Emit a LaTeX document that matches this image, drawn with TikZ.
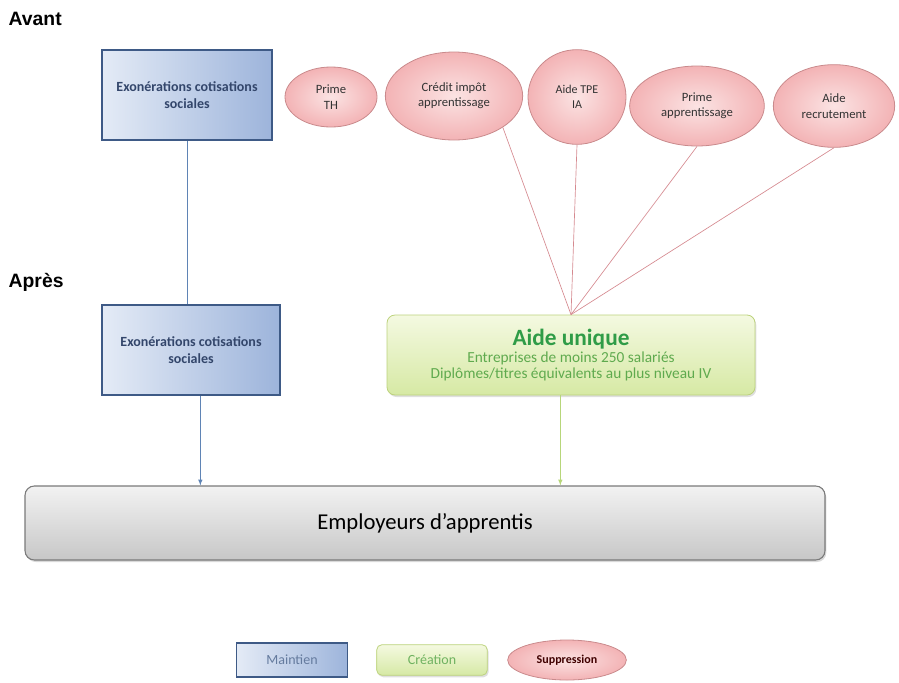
\documentclass[tikz,border=0pt]{standalone}
\usepackage{fontspec}
\setmainfont{Carlito}
\newfontfamily\titlefont{Liberation Sans}
\usepackage{tikz}
\usetikzlibrary{arrows,calc,positioning,shapes.geometric,shadows}
\definecolor{maintienline}{HTML}{3E5A86}
\definecolor{maintienleft}{HTML}{E4EBF6}
\definecolor{maintienright}{HTML}{9DB4DB}
\definecolor{maintientext}{HTML}{33466B}
\definecolor{supprline}{HTML}{C98A8C}
\definecolor{supprfill}{HTML}{F3B3B5}
\definecolor{supprlight}{HTML}{FBE3E3}
\definecolor{creationline}{HTML}{BCD27C}
\definecolor{creationtop}{HTML}{F4F9E1}
\definecolor{creationbottom}{HTML}{D6E9A4}
\definecolor{creationtext}{HTML}{2F9C47}
\definecolor{creationsub}{HTML}{5FAA4E}
\definecolor{empline}{HTML}{7A7A7A}
\definecolor{redlink}{HTML}{D58A90}
\definecolor{bluelink}{HTML}{5F84B5}
\definecolor{greenlink}{HTML}{B7D67A}
\tikzset{
        maintien/.style = {draw=maintienline, line width=1.5pt, rectangle,
            left color=maintienleft, right color=maintienright,
            text=maintientext, font=\fontsize{10.5}{13}\selectfont\bfseries,
            align=center, inner sep=2pt},
        suppression/.style = {draw=supprline, ellipse, line width=0.6pt,
            inner color=supprlight, outer color=supprfill,
            text=black!80, font=\fontsize{9.5}{11.5}\selectfont,
            align=center, inner sep=0pt},
        creation/.style = {draw=creationline, rounded corners=6pt, line width=0.6pt,
            top color=creationtop, bottom color=creationbottom,
            align=center, inner sep=2pt,
            drop shadow={opacity=0.25, shadow xshift=1pt, shadow yshift=-1.5pt}},
        employeurs/.style = {draw=empline, rounded corners=7pt, line width=0.8pt,
            top color=black!5, bottom color=black!22,
            font=\fontsize{17}{20}\selectfont,
            drop shadow={opacity=0.3, shadow xshift=1pt, shadow yshift=-1.5pt}},
        titre/.style = {font=\titlefont\fontsize{14.5}{17}\selectfont\bfseries, anchor=west},
        link/.style = {draw, line width=0.5pt},
    }

\begin{document}
\begin{tikzpicture}[x=0.75pt, y=-0.75pt]
    \useasboundingbox (0,0) rectangle (899,682);

    % titres
    \node[titre] (avant) at (4,19) {Avant};
    \node[titre] (apres) at (4,282) {Après};

    % avant
    \node[maintien, minimum width=128pt, minimum height=67.5pt] (exo1) at (187,95)
        {Exonérations cotisations\\sociales};
    \node[suppression, minimum width=69pt, minimum height=45pt] (primeth) at (331,97) {Prime\\TH};
    \node[suppression, minimum width=103pt, minimum height=66pt] (credit) at (454,96)
        {Crédit impôt\\apprentissage};
    \node[suppression, minimum width=73.5pt, minimum height=71pt,
          font=\fontsize{9}{11}\selectfont] (tpe) at (577,97) {Aide TPE\\IA};
    \node[suppression, minimum width=101pt, minimum height=60pt] (primeapp) at (697,106)
        {Prime\\apprentissage};
    \node[suppression, minimum width=91pt, minimum height=62pt] (recrut) at (834,106)
        {Aide\\recrutement};

    % apres
    \node[maintien, minimum width=133pt, minimum height=68pt] (exo2) at (191,350)
        {Exonérations cotisations\\sociales};
    \node[creation, minimum width=276pt, minimum height=60pt] (aide) at (571,355)
        {{\color{creationtext}\fontsize{17.5}{20}\selectfont\bfseries Aide unique}\\[1pt]
         {\color{creationsub}\fontsize{11.5}{13.5}\selectfont Entreprises de moins 250 salariés}\\
         {\color{creationsub}\fontsize{11.5}{13.5}\selectfont Diplômes/titres équivalents au plus niveau IV}};

    \node[employeurs, minimum width=600pt, minimum height=55.5pt] (emp) at (425,523)
        {Employeurs d’apprentis};

    % liens
    \draw[link, bluelink] (exo1.south) -- (exo1.south |- exo2.north);
    \draw[link, redlink] (credit.south east) -- (aide.north);
    \draw[link, redlink] (tpe.south) -- (aide.north);
    \draw[link, redlink] (primeapp.south) -- (aide.north);
    \draw[link, redlink] (recrut.south) -- (aide.north);
    \draw[link, bluelink, -latex] ([xshift=7pt]exo2.south) -- ([xshift=7pt]exo2.south |- emp.north);
    \draw[link, greenlink, -latex] ([xshift=-8pt]aide.south) -- ([xshift=-8pt]aide.south |- emp.north);

    % legende
    \node[maintien, line width=1.2pt, minimum width=83pt, minimum height=25.5pt,
          font=\fontsize{10.5}{12}\selectfont, text=maintienline!80] (legmaintien) at (292,660) {Maintien};
    \node[creation, rounded corners=4pt, drop shadow={opacity=0}, minimum width=83pt, minimum height=23pt,
          font=\fontsize{10.5}{12}\selectfont, text=creationsub!90] (legcreation) at (432,660) {Création};
    \node[suppression, minimum width=89pt, minimum height=30pt,
          font=\fontsize{9}{11}\selectfont\bfseries, text=black!75!red] (legsuppr) at (567,660) {Suppression};
\end{tikzpicture}
\end{document}
